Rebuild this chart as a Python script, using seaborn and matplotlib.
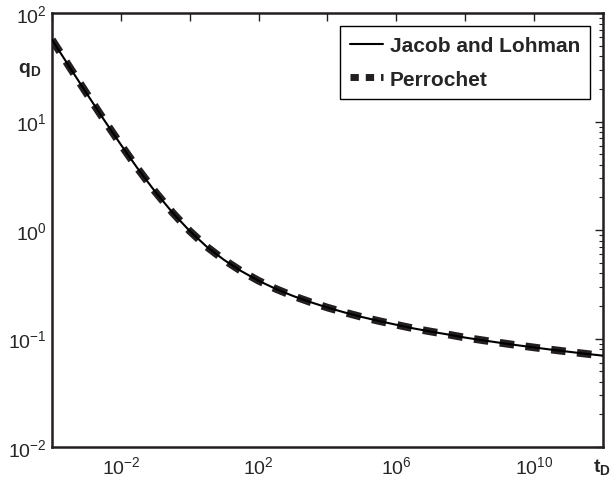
import matplotlib
matplotlib.use("Agg")
import matplotlib.pyplot as plt
import matplotlib.ticker as mticker
import seaborn as sns

# dimensionless time and flow rate (half-decade steps)
t_d = [1e-4, 3.162e-4, 1e-3, 3.162e-3, 1e-2, 3.162e-2, 1e-1, 3.162e-1,
       1e0, 3.162e0, 1e1, 3.162e1, 1e2, 3.162e2, 1e3, 3.162e3,
       1e4, 3.162e4, 1e5, 3.162e5, 1e6, 3.162e6, 1e7, 3.162e7,
       1e8, 3.162e8, 1e9, 3.162e9, 1e10, 3.162e10, 1e11, 3.162e11, 1e12]
q_jacob = [56.9, 32.2, 18.3, 10.5, 6.13, 3.65, 2.25, 1.45,
           0.98, 0.70, 0.53, 0.418, 0.341, 0.287, 0.247, 0.217,
           0.193, 0.174, 0.158, 0.145, 0.134, 0.124, 0.116, 0.109,
           0.102, 0.0965, 0.0915, 0.0869, 0.0828, 0.0790, 0.0756, 0.0724, 0.0695]
q_perrochet = [56.9, 32.2, 18.3, 10.5, 6.13, 3.65, 2.25, 1.45,
               0.98, 0.70, 0.53, 0.418, 0.341, 0.287, 0.247, 0.217,
               0.193, 0.174, 0.158, 0.145, 0.134, 0.124, 0.116, 0.109,
               0.102, 0.0965, 0.0915, 0.0869, 0.0828, 0.0790, 0.0756, 0.0724, 0.0695]

x_ticks = [1e-4, 1e-2, 1e0, 1e2, 1e4, 1e6, 1e8, 1e10, 1e12]
x_labels = ['', '$10^{-2}$', '', '$10^{2}$', '', '$10^{6}$', '', '$10^{10}$', '']
y_ticks = [1e-2, 1e-1, 1e0, 1e1, 1e2]
y_labels = ['$10^{-2}$', '$10^{-1}$', '$10^{0}$', '$10^{1}$', '$10^{2}$']

sns.set_style('white')
plt.rcParams['font.family'] = ['Liberation Sans', 'DejaVu Sans']
plt.rcParams['mathtext.fontset'] = 'custom'
plt.rcParams['mathtext.rm'] = 'Liberation Sans'
plt.rcParams['mathtext.bf'] = 'Liberation Sans:bold'
plt.rcParams['mathtext.default'] = 'regular'

fig = plt.figure(figsize=(6.12, 4.81), dpi=100)
ax = fig.add_axes([0.085, 0.0686, 0.900, 0.902])

sns.lineplot(x=t_d, y=q_perrochet, ax=ax, color='#231f20', linewidth=5.5,
             dashes=False, label='Perrochet', zorder=2)
ax.lines[-1].set_dashes([1.9, 1.5])
sns.lineplot(x=t_d, y=q_jacob, ax=ax, color='black', linewidth=1.5,
             label='Jacob and Lohman', zorder=3)

ax.set_xscale('log')
ax.set_yscale('log')
ax.set_xlim(1e-4, 1e12)
ax.set_ylim(1e-2, 1e2)

ax.set_xticks(x_ticks)
ax.set_xticklabels(x_labels)
ax.xaxis.set_minor_locator(mticker.NullLocator())
ax.set_yticks(y_ticks)
ax.set_yticklabels(y_labels)
ax.yaxis.set_minor_locator(mticker.LogLocator(base=10, subs=range(2, 10)))
ax.yaxis.set_minor_formatter(mticker.NullFormatter())

ax.tick_params(which='both', direction='in', top=True, right=True,
               labelsize=14, color='#231f20')
ax.tick_params(which='major', length=6, width=1)
ax.tick_params(which='minor', length=3, width=0.8)
ax.tick_params(axis='x', pad=6)
for s in ax.spines.values():
    s.set_linewidth(1.8)
    s.set_color('#231f20')

ax.set_xlabel('')
ax.set_ylabel('')
fig.text(0.049, 0.855, r'$\mathbf{q_D}$', fontsize=14, ha='center', va='center')
fig.text(0.983, 0.029, r'$\mathbf{t_D}$', fontsize=14, ha='center', va='center')

handles, labels = ax.get_legend_handles_labels()
leg = ax.legend(handles[::-1], labels[::-1], loc='upper right',
                prop={'weight': 'bold', 'size': 15}, frameon=True,
                fancybox=False, edgecolor='black', framealpha=1,
                handlelength=1.6, handletextpad=0.3, borderpad=0.5,
                labelspacing=0.7, borderaxespad=0.6)
leg.get_frame().set_linewidth(1.0)
# short square dashes in the legend key, as in the reference
leg.get_lines()[1].set_linewidth(5)
leg.get_lines()[1].set_dashes([1.2, 1.0])

fig.savefig('out.png', dpi=100)
